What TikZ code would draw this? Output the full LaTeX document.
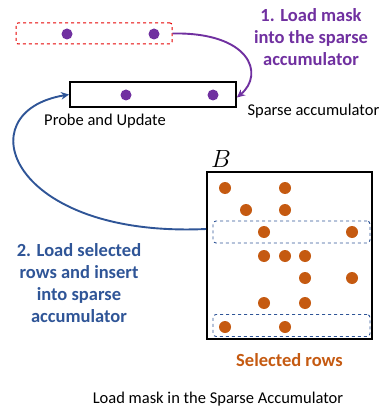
\documentclass[tikz,border=0pt]{standalone}
\usepackage{fontspec}
\setmainfont{Carlito}
\usetikzlibrary{arrows.meta,positioning}
\definecolor{maskpurple}{HTML}{7030A0}
\definecolor{rowblue}{HTML}{2F5597}
\definecolor{roworange}{HTML}{C55A11}
\tikzset{
    maskrow/.style = {rectangle, rounded corners=2pt, draw=red!90!black, dashed, line width=1pt, minimum width=156pt, minimum height=21pt},
    accum/.style = {rectangle, draw=black, line width=1.8pt, minimum width=166pt, minimum height=25pt},
    matbox/.style = {rectangle, draw=black, line width=1.9pt, minimum width=165pt, minimum height=167pt},
    selrow/.style = {rectangle, rounded corners=3pt, draw=rowblue, dashed, line width=0.9pt, minimum width=157pt, minimum height=22pt},
    pdot/.style = {circle, fill=maskpurple, inner sep=0pt, minimum size=11pt},
    odot/.style = {circle, fill=roworange, inner sep=0pt, minimum size=12pt},
    plain/.style = {font=\fontsize{16.5}{18}\selectfont},
    steplabel/.style = {font=\fontsize{18.5}{22}\selectfont\bfseries, align=center},
    steparrow/.style = {line width=1.9pt, -{Stealth[length=8pt, width=7.5pt, inset=2.5pt]}}
}

\begin{document}
\begin{tikzpicture}[x=1pt, y=-1pt]
    \useasboundingbox (0,0) rectangle (380,414);

    % mask row and sparse accumulator
    \node [maskrow] (mask) at (94,33.5) {};
    \node [pdot] (m1) at (67,34) {};
    \node [pdot] (m2) at (154,34) {};
    \node [accum] (acc) at (153,94.5) {};
    \node [pdot] (a1) at (126,95) {};
    \node [pdot] (a2) at (213,95) {};
    \node [plain, anchor=west] (acclabel) at (244,111) {Sparse accumulator};
    \node [plain] (probe) at (105,121) {Probe and Update};

    % matrix B with its selected rows
    \node [matbox] (bmat) at (289.5,255.5) {};
    \node [font=\fontsize{24}{24}\selectfont, anchor=south west, inner sep=0pt] (blabel) at (211,168) {$B$};
    \node [selrow] (sel1) at (291.5,232) {};
    \node [selrow] (sel2) at (291.5,325.5) {};
    \foreach \x/\y in {225/188, 285/188, 246/210, 285/210, 264/232, 352/232,
                       264/256, 285/256, 305/256, 305/278, 352/278,
                       264/303, 305/303, 225/327, 285/327}
        \node [odot] at (\x,\y) {};
    \node [font=\fontsize{18.5}{18}\selectfont\bfseries, text=roworange, below=10pt of bmat] (selected) {Selected rows};

    % steps
    \node [steplabel, text=maskpurple] (step1) at (311,37) {1. Load mask\\into the sparse\\accumulator};
    \node [steplabel, text=rowblue] (step2) at (79,283) {2. Load selected\\rows and insert\\into sparse\\accumulator};

    \draw [steparrow, maskpurple]
        (mask.east) .. controls (250,32) and (265,74) .. ([yshift=-3pt]acc.east);
    \draw [steparrow, rowblue]
        (bmat.west |- 0,229) .. controls (10,238) and (-35,112) .. (acc.west);

    \node [plain] (caption) at (218,399) {Load mask in the Sparse Accumulator};
\end{tikzpicture}
\end{document}
